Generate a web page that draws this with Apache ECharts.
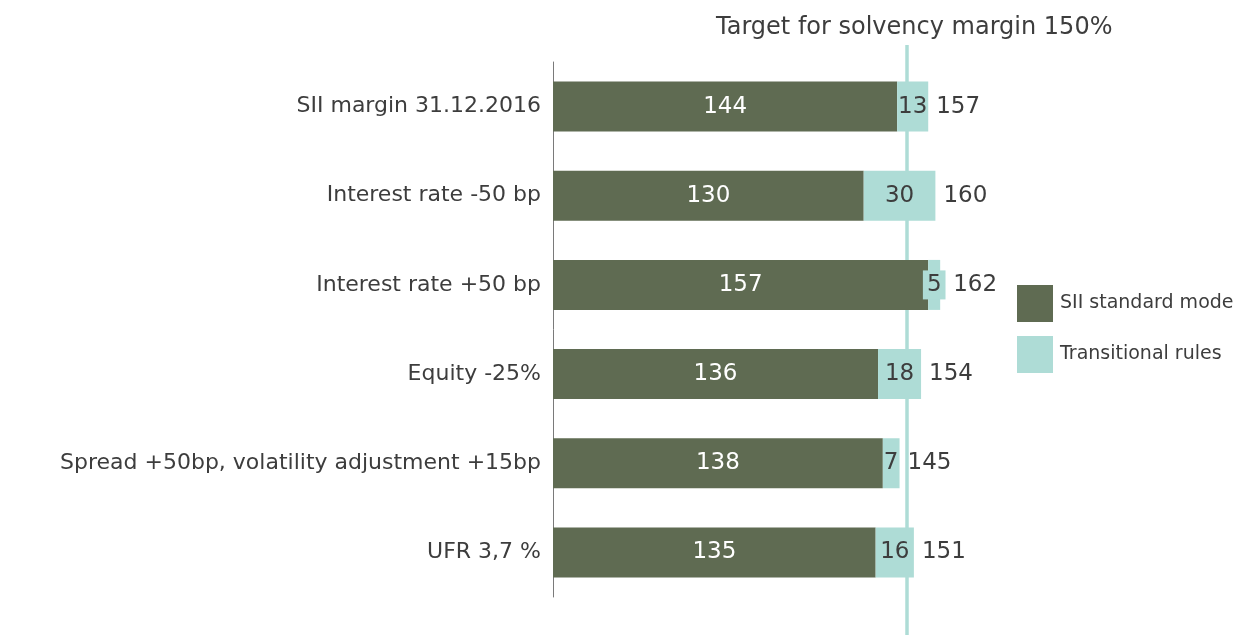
<!DOCTYPE html>
<html>
<head>
<meta charset="utf-8">
<script src="https://cdn.jsdelivr.net/npm/echarts@6/dist/echarts.min.js"></script>
<style>
  html, body { margin: 0; padding: 0; background: #fff; }
  #chart { width: 1242px; height: 635px; }
</style>
</head>
<body>
<div id="chart"></div>
<script>
// chart data
const categories = [
  'SII margin 31.12.2016',
  'Interest rate -50 bp',
  'Interest rate +50 bp',
  'Equity -25%',
  'Spread +50bp, volatility adjustment +15bp',
  'UFR 3,7 %'
]
const standardModel = [144, 130, 157, 136, 138, 135]
const transitional = [13, 30, 5, 18, 7, 16]
const totals = [157, 160, 162, 154, 145, 151]
// target line, sits a bit left of 150 in the original picture
const targetValue = 148.2

const DARK = '#5f6b52'
const LIGHT = '#aedcd6'
const TEXT = '#3d3d3d'
const FONT = 'DejaVu Sans'

const myChart = echarts.init(document.getElementById('chart'))

const option = {
  animation: false,
  textStyle: { fontFamily: FONT },
  title: {
    text: 'Target for solvency margin 150%',
    left: 716,
    top: 16,
    padding: 0,
    textStyle: { fontFamily: FONT, fontSize: 24, fontWeight: 'normal', color: TEXT }
  },
  legend: {
    orient: 'vertical',
    left: 1017,
    top: 285,
    padding: 0,
    itemWidth: 36,
    itemHeight: 37,
    itemGap: 14,
    icon: 'rect',
    data: ['SII standard mode', 'Transitional rules'],
    textStyle: { fontFamily: FONT, fontSize: 19, color: TEXT, padding: [0, 0, 0, 2] }
  },
  grid: [
    { left: 553, right: 211, top: 62, bottom: 38 },
    { left: 553, right: 211, top: 45, bottom: 0 }
  ],
  xAxis: [
    { type: 'value', min: 0, max: 200, show: false, gridIndex: 0 },
    { type: 'value', min: 0, max: 200, show: false, gridIndex: 1 }
  ],
  yAxis: [
    {
      type: 'category',
      data: categories,
      inverse: true,
      gridIndex: 0,
      axisTick: { show: false },
      axisLine: { lineStyle: { color: '#7a7a7a', width: 1 } },
      axisLabel: { fontFamily: FONT, fontSize: 22, color: TEXT, margin: 12 }
    },
    { type: 'category', data: [''], show: false, gridIndex: 1 }
  ],
  series: [
    {
      name: 'target',
      type: 'bar',
      xAxisIndex: 1,
      yAxisIndex: 1,
      data: [],
      z: 1,
      silent: true,
      markLine: {
        silent: true,
        symbol: 'none',
        z: 1,
        label: { show: false },
        lineStyle: { color: LIGHT, width: 3.5, type: 'solid' },
        data: [{ xAxis: targetValue }]
      }
    },
    {
      name: 'SII standard mode',
      type: 'bar',
      stack: 'margin',
      barWidth: 50,
      barGap: '-100%',
      z: 3,
      itemStyle: { color: DARK },
      label: {
        show: true,
        position: 'inside',
        fontFamily: FONT,
        fontSize: 23,
        color: '#ffffff'
      },
      data: standardModel
    },
    {
      name: 'Transitional rules',
      type: 'bar',
      stack: 'margin',
      barWidth: 50,
      barGap: '-100%',
      z: 3,
      itemStyle: { color: LIGHT },
      label: {
        show: true,
        position: 'inside',
        fontFamily: FONT,
        fontSize: 23,
        color: TEXT
      },
      // the tiny segment gets a filled label box like in the original
      data: transitional.map(function (v) {
        if (v < 7) {
          return { value: v, label: { backgroundColor: LIGHT, padding: [3, 4] } }
        }
        return v
      })
    },
    {
      name: 'total',
      type: 'bar',
      barWidth: 50,
      barGap: '-100%',
      z: 2,
      silent: true,
      itemStyle: { color: 'rgba(0,0,0,0)' },
      label: {
        show: true,
        position: 'right',
        distance: 8,
        fontFamily: FONT,
        fontSize: 23,
        color: TEXT
      },
      data: totals.map(function (v, i) {
        if (transitional[i] < 7) {
          return { value: v, label: { distance: 13 } }
        }
        return v
      })
    }
  ]
}

myChart.setOption(option)
</script>
</body>
</html>
